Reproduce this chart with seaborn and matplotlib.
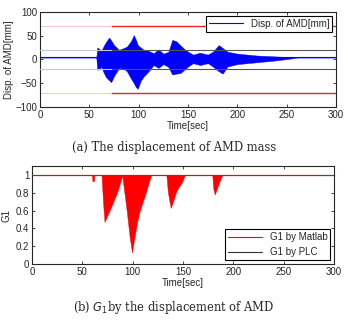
import numpy as np
import pandas as pd
import matplotlib
matplotlib.use('Agg')
import matplotlib.pyplot as plt
import seaborn as sns

# (a) displacement envelope of the AMD mass
t_disp = [0, 57, 58, 60, 62, 65, 67, 70, 72, 75, 80, 85, 88, 92, 95, 97, 99, 102, 105, 110,
          115, 120, 125, 130, 134, 138, 142, 146, 150, 155, 162, 170, 175, 181, 185, 190,
          200, 210, 220, 240, 255, 261, 300]
disp_upper = [4, 4, 25, 22, 18, 30, 37, 46, 40, 30, 20, 24, 27, 38, 51, 42, 30, 25, 20, 18,
              13, 21, 12, 16, 41, 38, 30, 22, 16, 10, 14, 10, 16, 30, 24, 16,
              12, 10, 8, 6, 5, 4, 4]
disp_lower = [4, 4, -22, -20, -16, -30, -38, -44, -48, -35, -18, -20, -25, -40, -50, -58, -62, -45, -36, -25,
              -12, -18, -10, -16, -32, -30, -29, -22, -15, -8, -12, -8, -15, -25, -30, -15,
              -10, -8, -6, -2, 2, 4, 4]
disp_base = 4
lim_red = [70, -70]
lim_gray = [20, -20]
t_switch = 73

# (b) G1 lower envelope (Matlab)
t_g1 = [0, 59.5, 60, 61.5, 62, 69, 70.5, 72, 75, 80, 85, 89, 89.5, 94, 97, 99.3, 101, 104,
        107, 110, 113, 116, 118.5, 133.4, 135, 137.7, 140, 143.4, 146, 149, 151.7,
        179, 180, 181.5, 184, 186, 189, 300]
g1_low = [1, 1, 0.93, 0.93, 1, 1, 0.7, 0.47, 0.55, 0.68, 0.82, 0.97, 1, 0.6, 0.3, 0.13, 0.25, 0.45,
          0.6, 0.7, 0.8, 0.92, 1, 1, 0.8, 0.63, 0.7, 0.82, 0.87, 0.92, 1,
          1, 0.85, 0.78, 0.86, 0.92, 1, 1]
t_plc = [0, 300]
g1_plc = [1, 1]

sns.set_style('ticks')
plt.rcParams['font.family'] = ['Liberation Sans', 'DejaVu Sans']
plt.rcParams['font.size'] = 7
plt.rcParams['xtick.direction'] = 'in'
plt.rcParams['ytick.direction'] = 'in'
plt.rcParams['xtick.major.size'] = 2.5
plt.rcParams['ytick.major.size'] = 2.5
plt.rcParams['axes.linewidth'] = 0.8

fig = plt.figure(figsize=(3.48, 3.2), dpi=100)
ax1 = fig.add_axes([0.115, 0.666, 0.851, 0.297])
ax2 = fig.add_axes([0.092, 0.175, 0.868, 0.306])

# --- top panel
df_disp = pd.DataFrame({'t': t_disp, 'up': disp_upper, 'lo': disp_lower})
ax1.fill_between(df_disp['t'], df_disp['lo'], df_disp['up'], color='#0000ff', lw=0.3, zorder=2)
sns.lineplot(x=[0, 300], y=[disp_base, disp_base], color='#0000ff', lw=0.8, ax=ax1,
             label='Disp. of AMD[mm]', zorder=3)
for v in lim_red:
    ax1.plot([0, t_switch], [v, v], color='#ffc8c8', lw=0.8, zorder=1)
    ax1.plot([t_switch, 300], [v, v], color='#ee2222', lw=1.0, zorder=1)
for v in lim_gray:
    ax1.plot([0, t_switch], [v, v], color='#c8c8c8', lw=0.8, zorder=4)
    ax1.plot([t_switch, 300], [v, v], color='#555555', lw=0.8, zorder=4)
ax1.set_xlim(0, 300)
ax1.set_ylim(-100, 100)
ax1.set_xticks(range(0, 301, 50))
ax1.set_yticks(range(-100, 101, 50))
ax1.set_xlabel('Time[sec]', labelpad=1)
ax1.set_ylabel('Disp. of AMD[mm]', labelpad=1)
ax1.tick_params(top=True, right=True, pad=2, width=0.6)
leg = ax1.legend(loc='upper right', fancybox=False, framealpha=1, edgecolor='black',
                 borderpad=0.3, handlelength=3.5, borderaxespad=0.4)
leg.get_frame().set_linewidth(0.8)

# --- bottom panel
df_g1 = pd.DataFrame({'t': t_g1, 'g': g1_low})
ax2.fill_between(df_g1['t'], df_g1['g'], 1, color='#ff0000', lw=0.3, zorder=2)
sns.lineplot(x=t_plc, y=g1_plc, color='#ff0000', lw=0.8, ax=ax2, label='G1 by Matlab', zorder=3)
sns.lineplot(x=t_plc, y=g1_plc, color='#333333', lw=0.8, ax=ax2, label='G1 by PLC', zorder=1)
ax2.set_xlim(0, 300)
ax2.set_ylim(0, 1.1)
ax2.set_xticks(range(0, 301, 50))
ax2.set_yticks([0, 0.2, 0.4, 0.6, 0.8, 1])
ax2.set_yticklabels(['0', '0.2', '0.4', '0.6', '0.8', '1'])
ax2.set_xlabel('Time[sec]', labelpad=1)
ax2.set_ylabel('G1', labelpad=3)
ax2.tick_params(top=True, right=True, pad=2, width=0.6)
leg2 = ax2.legend(loc='lower right', fancybox=False, framealpha=1, edgecolor='black',
                  borderpad=0.3, handlelength=3.5, borderaxespad=0.4)
leg2.get_frame().set_linewidth(0.8)

fig.text(0.5, 1 - 148 / 320, '(a) The displacement of AMD mass', ha='center', va='center',
         family='DejaVu Serif', fontsize=8.3)
fig.text(0.5, 1 - 307 / 320, r'(b) $G_1$by the displacement of AMD', ha='center', va='center',
         family='DejaVu Serif', fontsize=8.3)

fig.savefig('out.png', dpi=100)
